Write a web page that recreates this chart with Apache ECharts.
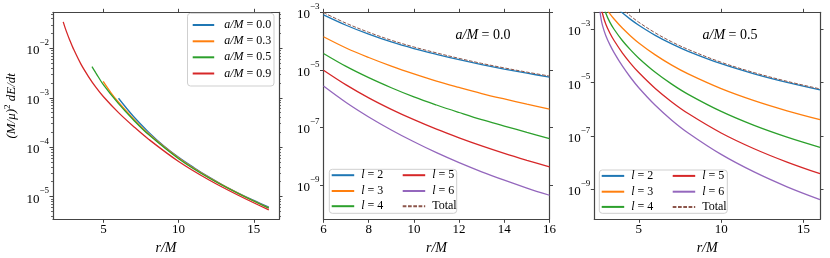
<!DOCTYPE html>
<html><head><meta charset="utf-8">
<script src="https://cdn.jsdelivr.net/npm/echarts@6/dist/echarts.min.js"></script>
<style>html,body{margin:0;padding:0;background:#fff}#c{width:830px;height:258px}</style>
</head><body><div id="c"></div>
<script>
// ---------- Panel 1: total flux vs r for several spins ----------
const r_a00 = [6, 7, 8, 9, 10, 11, 12, 13, 14, 15, 16];
const flux_a00 = [9.77e-4, 4.17e-4, 2.02e-4, 1.07e-4, 6.24e-5, 3.89e-5, 2.51e-5, 1.68e-5, 1.17e-5, 8.36e-6, 6.10e-6];
const r_a03 = [4.98, 5.5, 6, 7, 8, 10, 12, 14, 16];
const flux_a03 = [2.14e-3, 1.26e-3, 8.13e-4, 3.72e-4, 1.86e-4, 6.03e-5, 2.45e-5, 1.15e-5, 5.89e-6];
const r_a05 = [4.233, 4.5, 5, 6, 7, 8, 10, 12, 14, 16];
const flux_a05 = [4.27e-3, 3.16e-3, 1.82e-3, 7.60e-4, 3.55e-4, 1.80e-4, 5.85e-5, 2.40e-5, 1.14e-5, 5.85e-6];
const r_a09 = [2.32, 2.5, 2.75, 3, 3.5, 4, 4.5, 5, 6, 7, 8, 10, 12, 14, 16];
const flux_a09 = [3.44e-2, 2.34e-2, 1.48e-2, 9.77e-3, 4.79e-3, 2.69e-3, 1.62e-3, 1.05e-3, 5.01e-4, 2.63e-4, 1.45e-4, 5.13e-5, 2.19e-5, 1.05e-5, 5.37e-6];
const spinNames = ['a/M=0.0', 'a/M=0.3', 'a/M=0.5', 'a/M=0.9'];

// ---------- Panel 2: a/M = 0.0, l-modes ----------
const r_s = [6, 7, 8, 9, 10, 11, 12, 13, 14, 15, 16];
const s_l2 = [8.13e-4, 3.55e-4, 1.74e-4, 9.33e-5, 5.50e-5, 3.47e-5, 2.26e-5, 1.53e-5, 1.07e-5, 7.67e-6, 5.62e-6];
const s_l3 = [1.41e-4, 5.75e-5, 2.69e-5, 1.35e-5, 7.24e-6, 4.07e-6, 2.45e-6, 1.51e-6, 9.77e-7, 6.46e-7, 4.37e-7];
const s_l4 = [3.72e-5, 1.32e-5, 5.37e-6, 2.40e-6, 1.15e-6, 6.03e-7, 3.31e-7, 1.86e-7, 1.12e-7, 6.76e-8, 4.12e-8];
const s_l5 = [9.77e-6, 3.02e-6, 1.07e-6, 4.27e-7, 1.86e-7, 8.71e-8, 4.37e-8, 2.29e-8, 1.26e-8, 7.24e-9, 4.27e-9];
const s_l6 = [2.75e-6, 7.38e-7, 2.32e-7, 8.20e-8, 3.18e-8, 1.33e-8, 6.00e-9, 2.89e-9, 1.48e-9, 7.89e-10, 4.42e-10];
const s_tot = [9.77e-4, 4.17e-4, 2.02e-4, 1.07e-4, 6.24e-5, 3.89e-5, 2.51e-5, 1.68e-5, 1.17e-5, 8.36e-6, 6.10e-6];

// ---------- Panel 3: a/M = 0.5, l-modes ----------
const r_k = [2.6, 2.7, 2.8, 3.0, 3.25, 3.5, 4, 4.5, 5, 6, 7, 8, 10, 12, 14, 16];
const k_l2 = [3.30e-2, 2.75e-2, 2.31e-2, 1.66e-2, 1.13e-2, 7.91e-3, 4.17e-3, 2.37e-3, 1.43e-3, 5.96e-4, 2.84e-4, 1.50e-4, 5.13e-5, 2.14e-5, 1.02e-5, 5.37e-6];
const k_l3 = [2.75e-2, 1.53e-2, 1.06e-2, 6.35e-3, 3.82e-3, 2.45e-3, 1.12e-3, 5.68e-4, 3.10e-4, 1.10e-4, 4.53e-5, 2.12e-5, 5.93e-6, 2.10e-6, 8.73e-7, 4.07e-7];
const k_l4 = [2.43e-1, 3.08e-2, 1.15e-2, 4.04e-3, 1.83e-3, 1.01e-3, 3.81e-4, 1.69e-4, 8.28e-5, 2.45e-5, 8.79e-6, 3.63e-6, 8.30e-7, 2.48e-7, 8.97e-8, 3.72e-8];
const k_l5 = [3.67e-2, 8.30e-3, 3.86e-3, 1.55e-3, 7.14e-4, 3.81e-4, 1.32e-4, 5.32e-5, 2.39e-5, 6.03e-6, 1.89e-6, 6.92e-7, 1.29e-7, 3.30e-8, 1.04e-8, 3.80e-9];
const k_l6 = [9.12e-3, 2.70e-3, 1.38e-3, 5.78e-4, 2.61e-4, 1.34e-4, 4.22e-5, 1.56e-5, 6.44e-6, 1.41e-6, 3.91e-7, 1.29e-7, 2.02e-8, 4.44e-9, 1.23e-9, 4.07e-10];
const k_tot = [3.49e-1, 8.46e-2, 5.04e-2, 2.91e-2, 1.79e-2, 1.19e-2, 5.85e-3, 3.18e-3, 1.85e-3, 7.38e-4, 3.40e-4, 1.76e-4, 5.82e-5, 2.38e-5, 1.12e-5, 5.82e-6];
const modeNames = ['l=2', 'l=3', 'l=4', 'l=5', 'l=6', 'Total'];

// ---------- Tick labels ----------
const ticksX1 = [5, 10, 15];
const ticksY1 = [1e-5, 1e-4, 1e-3, 1e-2];
const ticksX2 = [6, 8, 10, 12, 14, 16];
const ticksY2 = [1e-9, 1e-7, 1e-5, 1e-3];
const ticksX3 = [5, 10, 15];
const ticksY3 = [1e-9, 1e-7, 1e-5, 1e-3];

// ---------- styling ----------
const SERIF = '"Liberation Serif", "DejaVu Serif", serif';
const AX = '#444';
const COL = ['#1f77b4', '#ff7f0e', '#2ca02c', '#d62728', '#9467bd', '#8c564b'];

function pairs(xs, ys) { return xs.map((x, i) => [x, ys[i]]); }
function supLabel(v) {
  const e = Math.round(Math.log10(v));
  return '{b|10}{s|' + (e < 0 ? '\u2212' : '') + Math.abs(e) + '}';
}
const richSup = {
  b: { fontFamily: SERIF, fontSize: 13, color: '#000', padding: [5, 0, 0, 0] },
  s: { fontFamily: SERIF, fontSize: 9, color: '#000', padding: [0, 0, 11, 0] }
};
const lineStyleAx = { color: AX, width: 1.2 };

function minorList(min, max) {
  const out = [];
  for (let e = -12; e <= 0; e++) for (let m = 2; m <= 9; m++) {
    const v = m * Math.pow(10, e);
    if (v > min && v < max) out.push(v);
  }
  return out;
}

const grids = [
  { left: 53, top: 12.3, width: 226, height: 207 },
  { left: 323.5, top: 12.3, width: 226, height: 207 },
  { left: 594.3, top: 12.3, width: 225.7, height: 207 }
];
grids.forEach(g => { g.containLabel = false; g.outerBoundsMode = 'none'; });

const xr = [[1.64, 16.68], [6, 16], [2.3, 16]];
const yr = [[3.47e-6, 5.37e-2], [6.46e-11, 1e-3], [7.4e-11, 4.37e-3]];
const xt = [ticksX1, ticksX2, ticksX3];
const yt = [ticksY1, ticksY2, ticksY3];

const xAxis = [], yAxis = [];
for (let i = 0; i < 3; i++) {
  xAxis.push({
    gridIndex: i, type: 'value', min: xr[i][0], max: xr[i][1], position: 'bottom',
    axisLine: { show: true, lineStyle: lineStyleAx },
    axisTick: { show: true, length: 3.5, lineStyle: { color: AX }, customValues: xt[i] },
    axisLabel: { customValues: xt[i], fontFamily: SERIF, fontSize: 13, color: '#000', margin: 4 },
    splitLine: { show: false },
    name: 'r/M', nameLocation: 'middle', nameGap: 15,
    nameTextStyle: { fontFamily: SERIF, fontSize: 14, fontStyle: 'italic', color: '#000' }
  });
  xAxis.push({
    gridIndex: i, type: 'value', min: xr[i][0], max: xr[i][1], position: 'top',
    axisLine: { show: true, lineStyle: lineStyleAx },
    axisTick: { show: true, length: 3.5, lineStyle: { color: AX }, customValues: xt[i] },
    axisLabel: { show: false }, splitLine: { show: false }
  });
}
function pushY(i, withMinor, name) {
  const main = {
    gridIndex: i, type: 'log', logBase: 10, min: yr[i][0], max: yr[i][1], position: 'left',
    axisLine: { show: true, lineStyle: lineStyleAx },
    axisTick: { show: true, length: 3.5, lineStyle: { color: AX }, customValues: yt[i] },
    axisLabel: { customValues: yt[i], formatter: supLabel, rich: richSup, margin: 4 },
    splitLine: { show: false }
  };
  if (name) {
    main.name = '{i|(M/\u03bc)}{s|2}{i| dE/dt}';
    main.nameLocation = 'middle';
    main.nameGap = 32;
    main.nameTextStyle = {
      padding: [0, 0, 0, 20],
      rich: {
        i: { fontFamily: SERIF, fontSize: 13, fontStyle: 'italic', color: '#000' },
        s: { fontFamily: SERIF, fontSize: 9, color: '#000', padding: [0, 0, 9, 0] }
      }
    };
  }
  const idx = yAxis.length;
  yAxis.push(main);
  yAxis.push({
    gridIndex: i, type: 'log', logBase: 10, min: yr[i][0], max: yr[i][1], position: 'right',
    axisLine: { show: true, lineStyle: lineStyleAx },
    axisTick: { show: true, length: 3.5, lineStyle: { color: AX }, customValues: yt[i] },
    axisLabel: { show: false }, splitLine: { show: false }
  });
  if (withMinor) {
    const mv = minorList(yr[i][0], yr[i][1]);
    ['left', 'right'].forEach(p => yAxis.push({
      gridIndex: i, type: 'log', logBase: 10, min: yr[i][0], max: yr[i][1], position: p,
      axisLine: { show: false },
      axisTick: { show: true, length: 2, lineStyle: { color: AX, width: 0.8 }, customValues: mv },
      axisLabel: { show: false }, splitLine: { show: false }
    }));
  }
  return idx;
}
const y0 = pushY(0, true, true);
const y1 = pushY(1, false, false);
const y2 = pushY(2, false, false);

const series = [];
const p1 = [[r_a00, flux_a00], [r_a03, flux_a03], [r_a05, flux_a05], [r_a09, flux_a09]];
p1.forEach((d, j) => series.push({
  type: 'line', name: spinNames[j], xAxisIndex: 0, yAxisIndex: y0,
  data: pairs(d[0], d[1]), symbol: 'none', smooth: 0.35,
  lineStyle: { color: COL[j], width: 1.3 }, itemStyle: { color: COL[j] }
}));
const p2 = [s_l2, s_l3, s_l4, s_l5, s_l6, s_tot];
const p3 = [k_l2, k_l3, k_l4, k_l5, k_l6, k_tot];
[[p2, r_s, 2, y1], [p3, r_k, 4, y2]].forEach(([arr, rs, xi, yi]) => {
  arr.forEach((vals, j) => series.push({
    type: 'line', name: modeNames[j], xAxisIndex: xi, yAxisIndex: yi,
    data: pairs(rs, vals), symbol: 'none', smooth: 0.35,
    lineStyle: j === 5 ? { color: COL[5], width: 1, type: [3.7, 1.6] } : { color: COL[j], width: 1.3 },
    itemStyle: { color: COL[j] }
  }));
});

// ---------- legends: one component per row, exact placement ----------
const noSym = { color: 'rgba(0,0,0,0)', borderColor: 'rgba(0,0,0,0)', borderWidth: 0 };
const legRich = {
  i: { fontFamily: SERIF, fontSize: 12, fontStyle: 'italic', color: '#000' },
  n: { fontFamily: SERIF, fontSize: 12, color: '#000' }
};
function fmtName(n) {
  if (n === 'Total') return '{n|Total}';
  if (n.startsWith('a/M')) return '{i|a/M}{n| = ' + n.slice(4) + '}';
  return '{i|l}{n| = ' + n.slice(2) + '}';
}
function rowLegend(name, left, cy, iw, gap) {
  return {
    left, top: cy - 6, orient: 'horizontal', padding: 0, itemWidth: iw, itemHeight: 12,
    data: [name], selectedMode: false, itemStyle: noSym, formatter: fmtName,
    textStyle: { fontFamily: SERIF, fontSize: 12, color: '#000', padding: [0, 0, 0, gap], rich: legRich }
  };
}
const legend = [];
[25, 41.3, 57.3, 73.5].forEach((cy, j) => legend.push(rowLegend(spinNames[j], 191.7, cy, 21.5, 5)));
[[330.7, 401.7, 169.3], [600.7, 671.7, 170]].forEach(([c1, c2, top]) => {
  const rows = [top + 5.9, top + 21.7, top + 36.9];
  modeNames.forEach((n, j) => legend.push(rowLegend(n, j < 3 ? c1 : c2, rows[j % 3], 22.5, 2)));
});

const titleRich = { i: { fontFamily: SERIF, fontSize: 14, fontStyle: 'italic', color: '#000' },
                    n: { fontFamily: SERIF, fontSize: 14, color: '#000' } };
const frame = (x, y, w, h) => ({
  type: 'rect', z: 3, shape: { x, y, width: w, height: h, r: 3 },
  style: { fill: 'rgba(255,255,255,0.85)', stroke: '#cfcfcf', lineWidth: 1 }
});
const graphic = [
  frame(187.5, 13.3, 86.5, 72.7),
  frame(329.3, 169.3, 127.4, 44),
  frame(599.3, 170, 128, 43.3),
  { type: 'text', x: 483, y: 35, style: { text: '{i|a/M}{n| = 0.0}', rich: titleRich, align: 'center', verticalAlign: 'middle' } },
  { type: 'text', x: 730, y: 35, style: { text: '{i|a/M}{n| = 0.5}', rich: titleRich, align: 'center', verticalAlign: 'middle' } }
];

const chart = echarts.init(document.getElementById('c'), null, { renderer: 'canvas' });
chart.setOption({ animation: false, backgroundColor: '#fff', grid: grids, xAxis, yAxis, series, legend, graphic });
</script></body></html>
